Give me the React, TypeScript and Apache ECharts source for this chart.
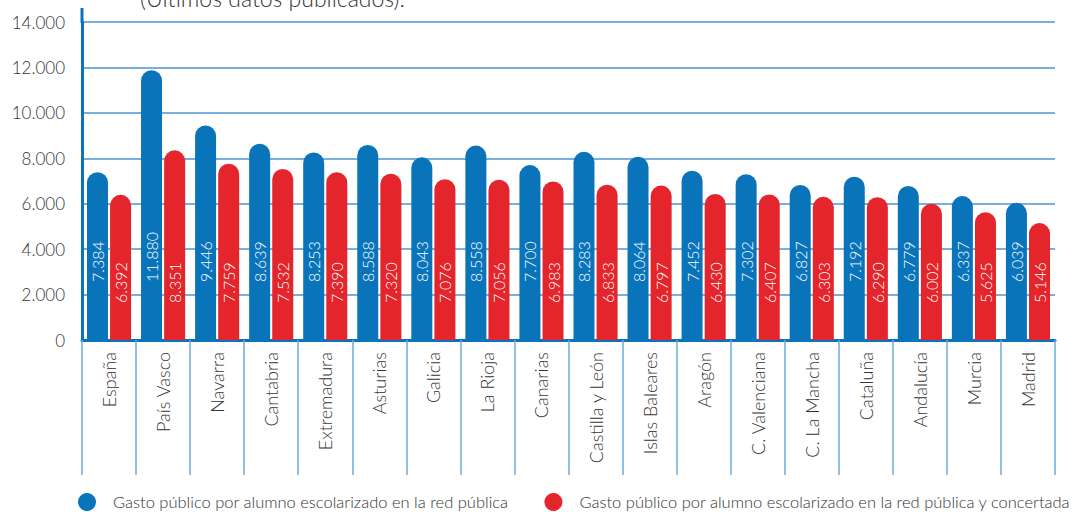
import React, { useEffect, useRef } from "react";
import * as echarts from "echarts";

const categories = [
  "España", "País Vasco", "Navarra", "Cantabria", "Extremadura", "Asturias",
  "Galicia", "La Rioja", "Canarias", "Castilla y León", "Islas Baleares",
  "Aragón", "C. Valenciana", "C. La Mancha", "Cataluña", "Andalucía",
  "Murcia", "Madrid",
];
const publica = [7384, 11880, 9446, 8639, 8253, 8588, 8043, 8558, 7700, 8283, 8064, 7452, 7302, 6827, 7192, 6779, 6337, 6039];
const publicaConcertada = [6392, 8351, 7759, 7532, 7390, 7320, 7076, 7056, 6983, 6833, 6797, 6430, 6407, 6303, 6290, 6002, 5625, 5146];
const seriesNames = [
  "Gasto público por alumno escolarizado en la red pública",
  "Gasto público por alumno escolarizado en la red pública y concertada",
];
const titleText = "(Últimos datos publicados).";

const FONT = "Lato";
const BLUE = "#0a74bb";
const RED = "#e4252b";

const fmt = (v: number) => {
  const s = String(Math.round(v));
  return s.replace(/\B(?=(\d{3})+(?!\d))/g, ".");
};

export default function App() {
  const ref = useRef<HTMLDivElement>(null);
  useEffect(() => {
    if (!ref.current) return;
    const chart = echarts.init(ref.current, undefined, { renderer: "svg" });
    const labelBase = {
      show: true,
      position: "insideBottom" as const,
      rotate: 90,
      align: "left" as const,
      verticalAlign: "middle" as const,
      color: "#ffffff",
      fontFamily: FONT,
      fontWeight: 300,
      fontSize: 16,
      formatter: (p: any) => fmt(p.value),
    };
    chart.setOption({
      animation: false,
      textStyle: { fontFamily: FONT },
      title: {
        text: titleText,
        left: 140,
        top: -14,
        padding: 0,
        textStyle: { fontFamily: FONT, fontSize: 23, fontWeight: 300, color: "#333" },
      },
      legend: {
        left: 78,
        top: 493,
        padding: 0,
        itemWidth: 18,
        itemHeight: 20,
        itemGap: 36,
        icon: "circle",
        textStyle: { fontFamily: FONT, fontSize: 16.5, fontWeight: 300, color: "#333", padding: [0, 0, 0, 12] },
        data: seriesNames,
      },
      grid: { left: 82, right: 19, top: 22, bottom: 172, containLabel: false },
      xAxis: {
        type: "category",
        data: categories,
        axisLine: { show: true, lineStyle: { color: BLUE, width: 3 } },
        axisTick: { show: true, alignWithLabel: false, interval: 0, length: 135, lineStyle: { color: "#6aaadd", width: 1.5 } },
        axisLabel: {
          interval: 0,
          rotate: 90,
          margin: 12,
          fontFamily: FONT,
          fontWeight: 300,
          fontSize: 18,
          color: "#333",
        },
      },
      yAxis: {
        type: "value",
        min: 0,
        max: 14000,
        interval: 2000,
        axisLine: { show: true, lineStyle: { color: BLUE, width: 3 } },
        axisTick: { show: false },
        splitLine: { show: true, lineStyle: { color: "#4a96d4", width: 1.5 } },
        axisLabel: {
          margin: 17,
          fontFamily: FONT,
          fontWeight: 300,
          fontSize: 17,
          color: "#333",
          formatter: (v: number) => (v === 0 ? "0" : fmt(v)),
        },
      },
      graphic: [
        {
          type: "line",
          shape: { x1: 82, y1: 8, x2: 82, y2: 23 },
          style: { stroke: BLUE, lineWidth: 3 },
        },
      ],
      series: [
        {
          name: seriesNames[0],
          type: "bar",
          data: publica,
          barWidth: 21,
          barGap: "10%",
          itemStyle: { color: BLUE, borderRadius: [10.5, 10.5, 0, 0] },
          label: { ...labelBase, distance: 58 },
        },
        {
          name: seriesNames[1],
          type: "bar",
          data: publicaConcertada,
          barWidth: 21,
          itemStyle: { color: RED, borderRadius: [10.5, 10.5, 0, 0] },
          label: { ...labelBase, distance: 37 },
        },
      ],
    });
    return () => chart.dispose();
  }, []);
  return <div ref={ref} style={{ width: 1074, height: 512, position: "absolute", left: 0, top: 0 }} />;
}
